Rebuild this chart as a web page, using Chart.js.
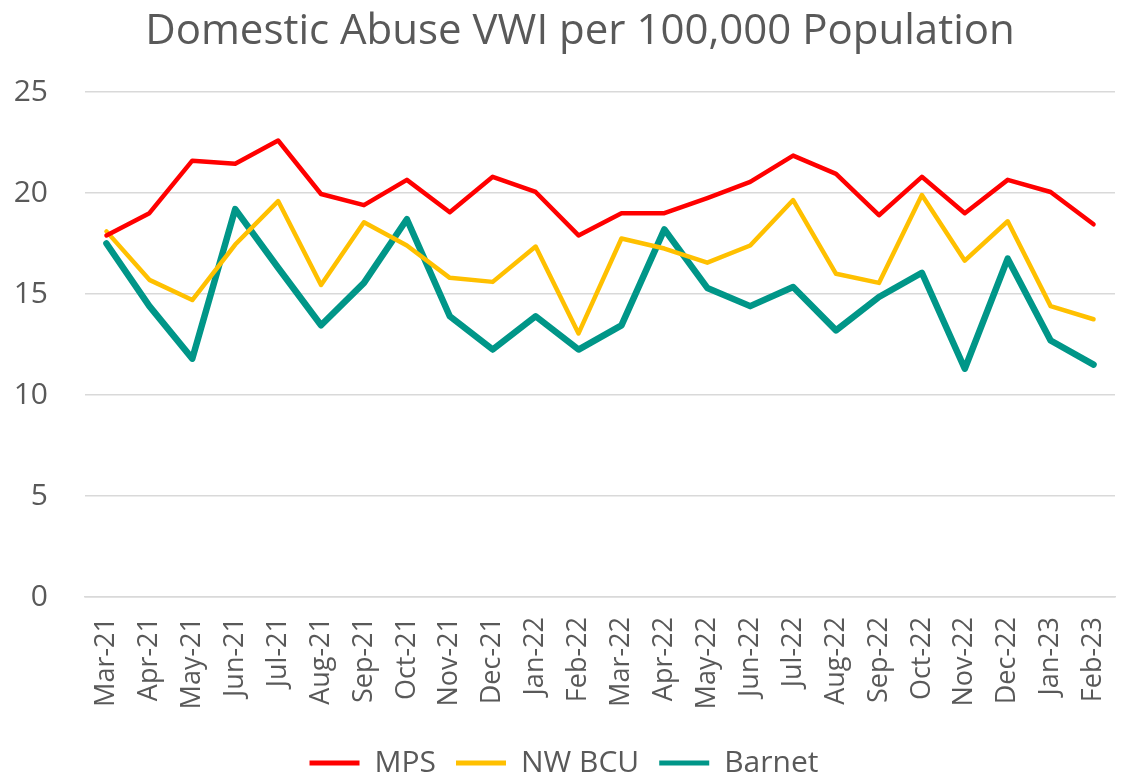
<!DOCTYPE html>
<html>
<head>
<meta charset="utf-8">
<script src="https://cdn.jsdelivr.net/npm/chart.js@4.4.1/dist/chart.umd.min.js"></script>
<style>
  html, body { margin: 0; padding: 0; background: #ffffff; }
  #wrap { width: 1124px; height: 776px; position: relative; }
</style>
</head>
<body>
<div id="wrap"><canvas id="c" width="1124" height="776"></canvas></div>
<script>
const months = ["Mar-21","Apr-21","May-21","Jun-21","Jul-21","Aug-21","Sep-21","Oct-21","Nov-21","Dec-21","Jan-22","Feb-22","Mar-22","Apr-22","May-22","Jun-22","Jul-22","Aug-22","Sep-22","Oct-22","Nov-22","Dec-22","Jan-23","Feb-23"];
const mps    = [17.9, 19.0, 21.6, 21.45, 22.6, 19.95, 19.4, 20.65, 19.05, 20.8, 20.05, 17.9, 19.0, 19.0, 19.75, 20.55, 21.85, 20.95, 18.9, 20.8, 19.0, 20.65, 20.05, 18.45];
const nwbcu  = [18.1, 15.7, 14.7, 17.45, 19.6, 15.45, 18.55, 17.4, 15.8, 15.6, 17.35, 13.05, 17.75, 17.25, 16.55, 17.4, 19.65, 16.0, 15.55, 19.9, 16.65, 18.6, 14.4, 13.75];
const barnet = [17.5, 14.4, 11.8, 19.2, 16.3, 13.45, 15.55, 18.7, 13.9, 12.25, 13.9, 12.25, 13.45, 18.2, 15.3, 14.4, 15.35, 13.2, 14.85, 16.05, 11.3, 16.75, 12.7, 11.5];
const yTicks = [0, 5, 10, 15, 20, 25];

const FONT = "'Open Sans', 'Noto Sans', sans-serif";
const TXT = '#595959';

const shiftTitle = {
  id: 'shiftTitle',
  afterLayout(chart) {
    const t = chart.titleBlock;
    if (t) { t.left += 16; t.right += 16; }
  }
};

new Chart(document.getElementById('c'), {
  type: 'line',
  data: {
    labels: months,
    datasets: [
      { label: 'MPS', data: mps, borderColor: '#ff0000', backgroundColor: '#ff0000', borderWidth: 4.5 },
      { label: 'NW BCU', data: nwbcu, borderColor: '#ffc000', backgroundColor: '#ffc000', borderWidth: 4.5 },
      { label: 'Barnet', data: barnet, borderColor: '#009688', backgroundColor: '#009688', borderWidth: 6.5 }
    ]
  },
  plugins: [shiftTitle],
  options: {
    responsive: false,
    animation: false,
    layout: { padding: { left: 13, right: 9, top: 0, bottom: -12 } },
    elements: {
      point: { radius: 0, hoverRadius: 0 },
      line: { tension: 0, borderJoinStyle: 'round', borderCapStyle: 'round' }
    },
    plugins: {
      title: {
        display: true,
        text: 'Domestic Abuse VWI per 100,000 Population',
        color: TXT,
        font: { family: FONT, size: 42, weight: 'normal' },
        padding: { top: 7, bottom: 34.6 }
      },
      legend: {
        position: 'bottom',
        labels: {
          color: TXT,
          font: { family: FONT, size: 30 },
          boxWidth: 50,
          boxHeight: 5,
          padding: 20,
          generateLabels(chart) {
            return chart.data.datasets.map((ds, i) => ({
              text: ds.label,
              fillStyle: ds.borderColor,
              strokeStyle: ds.borderColor,
              lineWidth: 0,
              hidden: false,
              datasetIndex: i,
              fontColor: TXT
            }));
          }
        }
      },
      tooltip: { enabled: false }
    },
    scales: {
      x: {
        offset: true,
        grid: { display: false, drawTicks: false },
        border: { display: true, color: '#d9d9d9', width: 1.5 },
        afterFit(axis) { axis.height = 131; axis.paddingLeft = 0; axis.paddingRight = 0; },
        ticks: {
          color: TXT,
          font: { family: FONT, size: 27 },
          maxRotation: 90,
          minRotation: 90,
          autoSkip: false,
          padding: 20
        }
      },
      y: {
        min: 0,
        max: 25,
        afterBuildTicks(axis) { axis.ticks = yTicks.map(v => ({ value: v })); },
        afterFit(axis) { axis.width = 72; },
        grid: { color: '#d9d9d9', lineWidth: 1.5, drawTicks: false },
        border: { display: false },
        ticks: {
          color: TXT,
          font: { family: FONT, size: 30 },
          padding: 37
        }
      }
    }
  }
});
</script>
</body>
</html>
